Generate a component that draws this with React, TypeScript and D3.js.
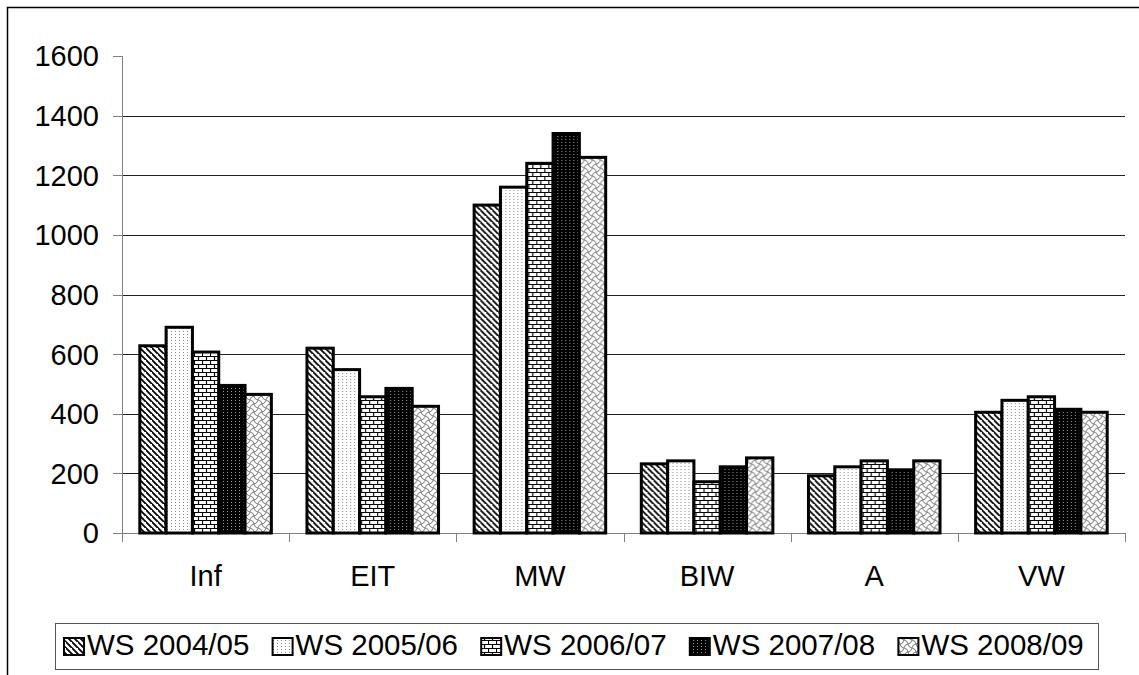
import React from "react";
import * as d3 from "d3";

const categories = ["Inf", "EIT", "MW", "BIW", "A", "VW"];
const seriesNames = ["WS 2004/05", "WS 2005/06", "WS 2006/07", "WS 2007/08", "WS 2008/09"];
const ws0405 = [628, 620, 1100, 232, 192, 405];
const ws0506 = [690, 548, 1160, 242, 222, 445];
const ws0607 = [607, 457, 1240, 172, 242, 457];
const ws0708 = [495, 485, 1340, 222, 212, 415];
const ws0809 = [465, 425, 1260, 252, 242, 405];
const seriesValues = [ws0405, ws0506, ws0607, ws0708, ws0809];
const yTicks = [0, 200, 400, 600, 800, 1000, 1200, 1400, 1600];

const W = 1139;
const H = 675;
const plot = { left: 122, right: 1125, top: 56, bottom: 533 };
const FONT = "'Liberation Sans', Arial, sans-serif";
const patternIds = ["p-diag", "p-dots", "p-brick", "p-dark", "p-wave"];

function Patterns() {
  return (
    <defs>
      <pattern id="p-diag" patternUnits="userSpaceOnUse" width="6" height="6">
        <rect width="6" height="6" fill="#fff" />
        <path d="M-1,-1 L7,7 M-4,2 L2,8 M4,-4 L10,2" stroke="#000" strokeWidth="1.8" />
      </pattern>
      <pattern id="p-dots" patternUnits="userSpaceOnUse" width="4" height="3">
        <rect width="4" height="3" fill="#fff" />
        <rect x="1" y="1" width="1" height="1" fill="#888" />
      </pattern>
      <pattern id="p-brick" patternUnits="userSpaceOnUse" width="8" height="8">
        <rect width="8" height="8" fill="#fff" />
        <path d="M0,0.5 H8 M0,4.5 H8 M0.5,0 V4.5 M4.5,4.5 V8" stroke="#000" strokeWidth="1.2" />
      </pattern>
      <pattern id="p-dark" patternUnits="userSpaceOnUse" width="4" height="3">
        <rect width="4" height="3" fill="#000" />
        <rect x="1" y="1" width="1" height="1" fill="#999" />
      </pattern>
      <pattern id="p-wave" patternUnits="userSpaceOnUse" width="8" height="8">
        <rect width="8" height="8" fill="#fff" />
        <path d="M0,8 Q1,4 4,4 T8,0 M0,0 Q4,1 4,4 T8,8" fill="none" stroke="#777" strokeWidth="1" />
      </pattern>
    </defs>
  );
}

export default function App() {
  const x0 = d3.scaleBand<string>().domain(categories).range([plot.left, plot.right]).padding(0);
  const bw = x0.bandwidth();
  const groupW = bw * 0.787;
  const x1 = d3
    .scaleBand<number>()
    .domain(d3.range(seriesNames.length))
    .range([(bw - groupW) / 2, (bw + groupW) / 2])
    .padding(0);
  const y = d3.scaleLinear().domain([0, 1600]).range([plot.bottom, plot.top]);

  const legendLeft = 55;
  const legendRight = 1098;
  const legendTop = 623;
  const legendBottom = 669;
  const itemW = (legendRight - legendLeft) / seriesNames.length;

  const boundaries = d3.range(categories.length + 1).map((i) => plot.left + i * bw);

  return (
    <svg width={W} height={H} style={{ position: "absolute", left: 0, top: 0 }} fontFamily={FONT}>
      <Patterns />
      <rect x={0} y={0} width={W} height={H} fill="#fff" />
      <rect x={7.5} y={7.5} width={W + 20} height={H + 20} fill="none" stroke="#000" strokeWidth={1.5} />

      {/* gridlines */}
      {yTicks
        .filter((t) => t > 0 && t < 1600)
        .map((t) => (
          <line key={t} x1={plot.left} x2={plot.right} y1={Math.round(y(t)) + 0.5} y2={Math.round(y(t)) + 0.5} stroke="#222" strokeWidth={1} />
        ))}

      {/* y axis */}
      <line x1={plot.left + 0.5} x2={plot.left + 0.5} y1={plot.top} y2={plot.bottom + 8} stroke="#808080" strokeWidth={1} />
      {yTicks.map((t) => (
        <g key={t}>
          <line x1={plot.left - 9} x2={plot.left} y1={Math.round(y(t)) + 0.5} y2={Math.round(y(t)) + 0.5} stroke="#808080" strokeWidth={1} />
          <text x={99} y={y(t)} dy="0.36em" textAnchor="end" fontSize={29} fill="#000">
            {t}
          </text>
        </g>
      ))}

      {/* x axis */}
      <line x1={plot.left} x2={plot.right} y1={plot.bottom + 0.5} y2={plot.bottom + 0.5} stroke="#808080" strokeWidth={1} />
      {boundaries.map((bx, i) => (
        <line key={i} x1={Math.round(bx) + 0.5} x2={Math.round(bx) + 0.5} y1={plot.bottom} y2={plot.bottom + 9} stroke="#808080" strokeWidth={1} />
      ))}

      {/* bars */}
      {categories.map((c, ci) => (
        <g key={c} transform={`translate(${x0(c)},0)`}>
          {seriesValues.map((vals, si) => (
            <rect
              key={si}
              x={x1(si)}
              y={y(vals[ci])}
              width={x1.bandwidth()}
              height={y(0) - y(vals[ci])}
              fill={`url(#${patternIds[si]})`}
              stroke="#000"
              strokeWidth={3}
            />
          ))}
        </g>
      ))}

      {/* category labels */}
      {categories.map((c) => (
        <text key={c} x={(x0(c) as number) + bw / 2} y={586} textAnchor="middle" fontSize={29} fill="#000">
          {c}
        </text>
      ))}

      {/* legend */}
      <rect x={legendLeft + 0.5} y={legendTop + 0.5} width={legendRight - legendLeft} height={legendBottom - legendTop} fill="#fff" stroke="#555" strokeWidth={1} />
      {seriesNames.map((s, si) => {
        const lx = legendLeft + si * itemW + 8;
        return (
          <g key={s}>
            <rect x={lx + 1} y={638} width={20} height={17} fill={`url(#${patternIds[si]})`} stroke="#000" strokeWidth={2} />
            <text x={lx + 24} y={655} fontSize={29.5} fill="#000">
              {s}
            </text>
          </g>
        );
      })}
    </svg>
  );
}
